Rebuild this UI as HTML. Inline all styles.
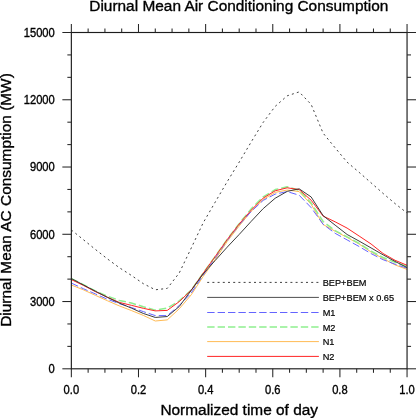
<!DOCTYPE html><html><head><meta charset="utf-8"><style>html,body{margin:0;padding:0;background:#fff;overflow:hidden}svg{display:block;will-change:transform}</style></head><body>
<svg width="416" height="418" viewBox="0 0 416 418">
<rect width="416" height="418" fill="#fff"/>
<g fill="none" stroke-linejoin="round">
<polyline points="71.35,229.96 83.34,239.65 95.33,249.38 107.32,258.81 119.31,267.69 131.30,275.35 143.29,283.65 155.28,289.79 167.26,288.40 179.25,272.97 191.24,248.04 203.23,222.72 215.22,202.09 227.21,181.65 239.20,162.10 251.19,141.96 263.18,122.40 275.17,106.41 287.16,95.85 299.15,91.90 311.14,104.41 323.12,133.18 335.11,147.78 347.10,162.14 359.09,172.30 371.08,182.84 383.07,193.41 395.06,203.58 407.05,213.03" stroke="#2a2a2a" stroke-width="0.9" stroke-dasharray="2.0 3.2"/>
<polyline points="71.35,285.00 83.34,289.80 95.33,295.30 107.32,300.70 119.31,305.90 131.30,310.50 143.29,315.40 155.28,321.00 167.26,319.90 179.25,308.80 191.24,294.80 203.23,276.40 215.22,259.50 227.21,241.50 239.20,226.00 251.19,211.30 263.18,199.50 275.17,192.40 287.16,190.00 299.15,191.60 311.14,204.30 323.12,224.50 335.11,231.20 347.10,237.40 359.09,244.00 371.08,252.00 383.07,258.50 395.06,264.90 407.05,269.40" stroke="#ffbb55" stroke-width="1"/>
<polyline points="71.35,283.10 83.34,288.70 95.33,293.90 107.32,299.20 119.31,303.60 131.30,307.50 143.29,311.60 155.28,315.60 167.26,315.60 179.25,305.50 191.24,293.00 203.23,275.00 215.22,258.00 227.21,240.40 239.20,224.90 251.19,211.50 263.18,200.40 275.17,194.10 287.16,191.60 299.15,195.20 311.14,207.60 323.12,224.30 335.11,233.30 347.10,239.90 359.09,246.50 371.08,253.60 383.07,259.70 395.06,264.20 407.05,268.20" stroke="#6464ff" stroke-width="1" stroke-dasharray="7.4 3"/>
<polyline points="71.35,278.80 83.34,284.60 95.33,290.90 107.32,296.10 119.31,300.40 131.30,303.00 143.29,306.70 155.28,310.10 167.26,308.10 179.25,300.90 191.24,290.00 203.23,273.00 215.22,256.40 227.21,239.40 239.20,223.60 251.19,208.90 263.18,196.90 275.17,189.60 287.16,186.80 299.15,190.20 311.14,202.90 323.12,221.50 335.11,230.70 347.10,236.80 359.09,243.40 371.08,251.10 383.07,257.50 395.06,262.30 407.05,266.50" stroke="#8fef8f" stroke-width="1.5" stroke-dasharray="7.4 3"/>
<polyline points="71.35,279.60 83.34,285.40 95.33,291.60 107.32,297.20 119.31,302.40 131.30,305.30 143.29,308.30 155.28,310.90 167.26,310.40 179.25,301.60 191.24,290.20 203.23,273.20 215.22,256.50 227.21,239.60 239.20,224.00 251.19,210.20 263.18,198.10 275.17,190.80 287.16,187.80 299.15,189.60 311.14,200.20 323.12,216.10 335.11,221.80 347.10,228.10 359.09,236.00 371.08,244.00 383.07,253.50 395.06,260.30 407.05,265.30" stroke="#ff2424" stroke-width="1"/>
<polyline points="71.35,278.55 83.34,284.85 95.33,291.18 107.32,297.31 119.31,303.08 131.30,308.06 143.29,313.45 155.28,317.44 167.26,316.54 179.25,306.51 191.24,290.31 203.23,273.85 215.22,260.44 227.21,247.15 239.20,234.44 251.19,221.35 263.18,208.64 275.17,198.25 287.16,191.38 299.15,188.82 311.14,196.95 323.12,215.65 335.11,225.14 347.10,234.47 359.09,241.07 371.08,247.93 383.07,254.80 395.06,261.41 407.05,267.55" stroke="#333" stroke-width="0.95"/>
</g>
<g stroke="#262626" stroke-width="1.05"><rect x="71.35" y="32.5" width="335.70000000000005" height="336.3" fill="none" stroke="#1c1c1c" stroke-width="1.15"/><line x1="71.35" y1="368.8" x2="71.35" y2="377.3"/><line x1="71.35" y1="32.5" x2="71.35" y2="24.0"/><line x1="88.13" y1="368.8" x2="88.13" y2="372.8"/><line x1="88.13" y1="32.5" x2="88.13" y2="28.5"/><line x1="104.92" y1="368.8" x2="104.92" y2="372.8"/><line x1="104.92" y1="32.5" x2="104.92" y2="28.5"/><line x1="121.70" y1="368.8" x2="121.70" y2="372.8"/><line x1="121.70" y1="32.5" x2="121.70" y2="28.5"/><line x1="138.49" y1="368.8" x2="138.49" y2="377.3"/><line x1="138.49" y1="32.5" x2="138.49" y2="24.0"/><line x1="155.28" y1="368.8" x2="155.28" y2="372.8"/><line x1="155.28" y1="32.5" x2="155.28" y2="28.5"/><line x1="172.06" y1="368.8" x2="172.06" y2="372.8"/><line x1="172.06" y1="32.5" x2="172.06" y2="28.5"/><line x1="188.85" y1="368.8" x2="188.85" y2="372.8"/><line x1="188.85" y1="32.5" x2="188.85" y2="28.5"/><line x1="205.63" y1="368.8" x2="205.63" y2="377.3"/><line x1="205.63" y1="32.5" x2="205.63" y2="24.0"/><line x1="222.41" y1="368.8" x2="222.41" y2="372.8"/><line x1="222.41" y1="32.5" x2="222.41" y2="28.5"/><line x1="239.20" y1="368.8" x2="239.20" y2="372.8"/><line x1="239.20" y1="32.5" x2="239.20" y2="28.5"/><line x1="255.99" y1="368.8" x2="255.99" y2="372.8"/><line x1="255.99" y1="32.5" x2="255.99" y2="28.5"/><line x1="272.77" y1="368.8" x2="272.77" y2="377.3"/><line x1="272.77" y1="32.5" x2="272.77" y2="24.0"/><line x1="289.56" y1="368.8" x2="289.56" y2="372.8"/><line x1="289.56" y1="32.5" x2="289.56" y2="28.5"/><line x1="306.34" y1="368.8" x2="306.34" y2="372.8"/><line x1="306.34" y1="32.5" x2="306.34" y2="28.5"/><line x1="323.12" y1="368.8" x2="323.12" y2="372.8"/><line x1="323.12" y1="32.5" x2="323.12" y2="28.5"/><line x1="339.91" y1="368.8" x2="339.91" y2="377.3"/><line x1="339.91" y1="32.5" x2="339.91" y2="24.0"/><line x1="356.70" y1="368.8" x2="356.70" y2="372.8"/><line x1="356.70" y1="32.5" x2="356.70" y2="28.5"/><line x1="373.48" y1="368.8" x2="373.48" y2="372.8"/><line x1="373.48" y1="32.5" x2="373.48" y2="28.5"/><line x1="390.27" y1="368.8" x2="390.27" y2="372.8"/><line x1="390.27" y1="32.5" x2="390.27" y2="28.5"/><line x1="407.05" y1="368.8" x2="407.05" y2="377.3"/><line x1="407.05" y1="32.5" x2="407.05" y2="24.0"/><line x1="71.35" y1="368.80" x2="62.349999999999994" y2="368.80"/><line x1="407.05" y1="368.80" x2="416.05" y2="368.80"/><line x1="71.35" y1="346.38" x2="67.35" y2="346.38"/><line x1="407.05" y1="346.38" x2="411.05" y2="346.38"/><line x1="71.35" y1="323.96" x2="67.35" y2="323.96"/><line x1="407.05" y1="323.96" x2="411.05" y2="323.96"/><line x1="71.35" y1="301.54" x2="62.349999999999994" y2="301.54"/><line x1="407.05" y1="301.54" x2="416.05" y2="301.54"/><line x1="71.35" y1="279.12" x2="67.35" y2="279.12"/><line x1="407.05" y1="279.12" x2="411.05" y2="279.12"/><line x1="71.35" y1="256.70" x2="67.35" y2="256.70"/><line x1="407.05" y1="256.70" x2="411.05" y2="256.70"/><line x1="71.35" y1="234.28" x2="62.349999999999994" y2="234.28"/><line x1="407.05" y1="234.28" x2="416.05" y2="234.28"/><line x1="71.35" y1="211.86" x2="67.35" y2="211.86"/><line x1="407.05" y1="211.86" x2="411.05" y2="211.86"/><line x1="71.35" y1="189.44" x2="67.35" y2="189.44"/><line x1="407.05" y1="189.44" x2="411.05" y2="189.44"/><line x1="71.35" y1="167.02" x2="62.349999999999994" y2="167.02"/><line x1="407.05" y1="167.02" x2="416.05" y2="167.02"/><line x1="71.35" y1="144.60" x2="67.35" y2="144.60"/><line x1="407.05" y1="144.60" x2="411.05" y2="144.60"/><line x1="71.35" y1="122.18" x2="67.35" y2="122.18"/><line x1="407.05" y1="122.18" x2="411.05" y2="122.18"/><line x1="71.35" y1="99.76" x2="62.349999999999994" y2="99.76"/><line x1="407.05" y1="99.76" x2="416.05" y2="99.76"/><line x1="71.35" y1="77.34" x2="67.35" y2="77.34"/><line x1="407.05" y1="77.34" x2="411.05" y2="77.34"/><line x1="71.35" y1="54.92" x2="67.35" y2="54.92"/><line x1="407.05" y1="54.92" x2="411.05" y2="54.92"/><line x1="71.35" y1="32.50" x2="62.349999999999994" y2="32.50"/><line x1="407.05" y1="32.50" x2="416.05" y2="32.50"/></g>
<g font-family="'Liberation Sans', sans-serif" stroke="#000" stroke-width="0.35" font-size="12.4" fill="#000"><text transform="translate(54.75,373.15) scale(0.9,1)" text-anchor="end">0</text><text transform="translate(54.75,305.89) scale(0.9,1)" text-anchor="end">3000</text><text transform="translate(54.75,238.63) scale(0.9,1)" text-anchor="end">6000</text><text transform="translate(54.75,171.37) scale(0.9,1)" text-anchor="end">9000</text><text transform="translate(54.75,104.11) scale(0.9,1)" text-anchor="end">12000</text><text transform="translate(54.75,36.85) scale(0.9,1)" text-anchor="end">15000</text><text transform="translate(71.35,394.1) scale(0.9,1)" text-anchor="middle">0.0</text><text transform="translate(138.49,394.1) scale(0.9,1)" text-anchor="middle">0.2</text><text transform="translate(205.63,394.1) scale(0.9,1)" text-anchor="middle">0.4</text><text transform="translate(272.77,394.1) scale(0.9,1)" text-anchor="middle">0.6</text><text transform="translate(339.91,394.1) scale(0.9,1)" text-anchor="middle">0.8</text><text transform="translate(407.05,394.1) scale(0.9,1)" text-anchor="middle">1.0</text></g>
<text font-family="'Liberation Sans', sans-serif" stroke="#000" stroke-width="0.35" font-size="15.5" transform="translate(238.8,11.45) scale(0.995,1)" text-anchor="middle">Diurnal Mean Air Conditioning Consumption</text>
<text font-family="'Liberation Sans', sans-serif" stroke="#000" stroke-width="0.35" font-size="15.5" transform="translate(239.2,414.65) scale(0.995,1)" text-anchor="middle">Normalized time of day</text>
<text font-family="'Liberation Sans', sans-serif" stroke="#000" stroke-width="0.35" font-size="15.5" transform="translate(11.3,200.0) rotate(-90) scale(0.995,1)" text-anchor="middle">Diurnal Mean AC Consumption (MW)</text>
<line x1="207.2" y1="282.4" x2="318.9" y2="282.4" stroke="#2a2a2a" stroke-width="0.9" stroke-dasharray="2.0 3.2"/><text font-family="'Liberation Sans', sans-serif" stroke="#000" stroke-width="0.2" font-size="9.7" transform="translate(322.7,285.90) scale(0.95,1)">BEP+BEM</text><line x1="207.2" y1="297.4" x2="318.9" y2="297.4" stroke="#444" stroke-width="0.95"/><text font-family="'Liberation Sans', sans-serif" stroke="#000" stroke-width="0.2" font-size="9.7" transform="translate(322.7,300.90) scale(0.95,1)">BEP+BEM x 0.65</text><line x1="207.2" y1="312.5" x2="318.9" y2="312.5" stroke="#6464ff" stroke-width="1" stroke-dasharray="7.4 3"/><text font-family="'Liberation Sans', sans-serif" stroke="#000" stroke-width="0.2" font-size="9.7" transform="translate(322.7,316.00) scale(0.95,1)">M1</text><line x1="207.2" y1="327.0" x2="318.9" y2="327.0" stroke="#8fef8f" stroke-width="1.5" stroke-dasharray="7.4 3"/><text font-family="'Liberation Sans', sans-serif" stroke="#000" stroke-width="0.2" font-size="9.7" transform="translate(322.7,330.50) scale(0.95,1)">M2</text><line x1="207.2" y1="341.6" x2="318.9" y2="341.6" stroke="#ffbb55" stroke-width="1"/><text font-family="'Liberation Sans', sans-serif" stroke="#000" stroke-width="0.2" font-size="9.7" transform="translate(322.7,345.10) scale(0.95,1)">N1</text><line x1="207.2" y1="356.4" x2="318.9" y2="356.4" stroke="#ff2424" stroke-width="1"/><text font-family="'Liberation Sans', sans-serif" stroke="#000" stroke-width="0.2" font-size="9.7" transform="translate(322.7,359.90) scale(0.95,1)">N2</text>
</svg></body></html>
